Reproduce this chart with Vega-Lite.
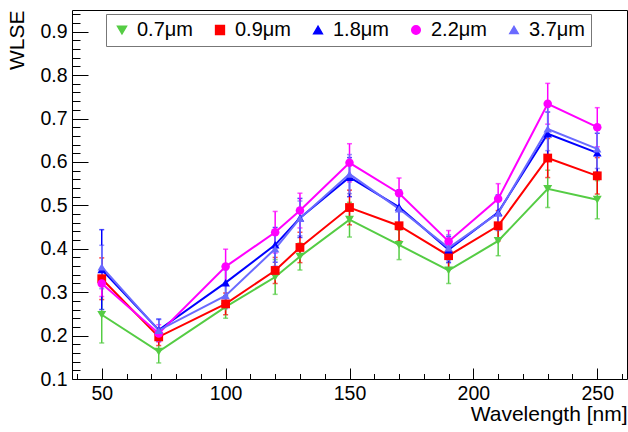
{
  "$schema": "https://vega.github.io/schema/vega-lite/v6.json",
  "width": 555,
  "height": 369,
  "autosize": {"type": "none"},
  "padding": {"left": 72, "top": 10, "right": 1, "bottom": 53},
  "background": "white",
  "config": {
    "font": "Liberation Sans",
    "view": {"stroke": "black", "strokeWidth": 1},
    "axis": {"grid": false, "domain": false, "labelColor": "black", "titleColor": "black", "tickColor": "black", "labelFont": "Liberation Sans", "titleFont": "Liberation Sans", "labelFontSize": 19.5, "titleFontSize": 21, "titleFontWeight": "normal"}
  },
  "data": {"values": [
    {"wl": 50, "s": "0.7μm", "v": 0.248, "e": 0.065},
    {"wl": 73, "s": "0.7μm", "v": 0.163, "e": 0.026},
    {"wl": 100, "s": "0.7μm", "v": 0.266, "e": 0.026},
    {"wl": 120, "s": "0.7μm", "v": 0.335, "e": 0.04},
    {"wl": 130, "s": "0.7μm", "v": 0.382, "e": 0.031},
    {"wl": 150, "s": "0.7μm", "v": 0.467, "e": 0.04},
    {"wl": 170, "s": "0.7μm", "v": 0.409, "e": 0.034},
    {"wl": 190, "s": "0.7μm", "v": 0.35, "e": 0.03},
    {"wl": 210, "s": "0.7μm", "v": 0.418, "e": 0.034},
    {"wl": 230, "s": "0.7μm", "v": 0.538, "e": 0.043},
    {"wl": 250, "s": "0.7μm", "v": 0.513, "e": 0.044},
    {"wl": 50, "s": "0.9μm", "v": 0.331, "e": 0.048},
    {"wl": 73, "s": "0.9μm", "v": 0.197, "e": 0.02},
    {"wl": 100, "s": "0.9μm", "v": 0.273, "e": 0.025},
    {"wl": 120, "s": "0.9μm", "v": 0.35, "e": 0.03},
    {"wl": 130, "s": "0.9μm", "v": 0.403, "e": 0.035},
    {"wl": 150, "s": "0.9μm", "v": 0.495, "e": 0.04},
    {"wl": 170, "s": "0.9μm", "v": 0.453, "e": 0.035},
    {"wl": 190, "s": "0.9μm", "v": 0.384, "e": 0.03},
    {"wl": 210, "s": "0.9μm", "v": 0.453, "e": 0.035},
    {"wl": 230, "s": "0.9μm", "v": 0.609, "e": 0.045},
    {"wl": 250, "s": "0.9μm", "v": 0.568, "e": 0.042},
    {"wl": 50, "s": "1.8μm", "v": 0.352, "e": 0.092},
    {"wl": 73, "s": "1.8μm", "v": 0.213, "e": 0.025},
    {"wl": 100, "s": "1.8μm", "v": 0.322, "e": 0.03},
    {"wl": 120, "s": "1.8μm", "v": 0.409, "e": 0.04},
    {"wl": 130, "s": "1.8μm", "v": 0.471, "e": 0.045},
    {"wl": 150, "s": "1.8μm", "v": 0.565, "e": 0.045},
    {"wl": 170, "s": "1.8μm", "v": 0.496, "e": 0.04},
    {"wl": 190, "s": "1.8μm", "v": 0.398, "e": 0.03},
    {"wl": 210, "s": "1.8μm", "v": 0.484, "e": 0.04},
    {"wl": 230, "s": "1.8μm", "v": 0.665, "e": 0.05},
    {"wl": 250, "s": "1.8μm", "v": 0.621, "e": 0.045},
    {"wl": 50, "s": "2.2μm", "v": 0.32, "e": 0.03},
    {"wl": 73, "s": "2.2μm", "v": 0.205, "e": 0.02},
    {"wl": 100, "s": "2.2μm", "v": 0.359, "e": 0.04},
    {"wl": 120, "s": "2.2μm", "v": 0.438, "e": 0.048},
    {"wl": 130, "s": "2.2μm", "v": 0.488, "e": 0.04},
    {"wl": 150, "s": "2.2μm", "v": 0.598, "e": 0.044},
    {"wl": 170, "s": "2.2μm", "v": 0.528, "e": 0.035},
    {"wl": 190, "s": "2.2μm", "v": 0.417, "e": 0.025},
    {"wl": 210, "s": "2.2μm", "v": 0.515, "e": 0.035},
    {"wl": 230, "s": "2.2μm", "v": 0.734, "e": 0.047},
    {"wl": 250, "s": "2.2μm", "v": 0.68, "e": 0.045},
    {"wl": 50, "s": "3.7μm", "v": 0.358, "e": 0.05},
    {"wl": 73, "s": "3.7μm", "v": 0.212, "e": 0.025},
    {"wl": 100, "s": "3.7μm", "v": 0.292, "e": 0.03},
    {"wl": 120, "s": "3.7μm", "v": 0.4, "e": 0.04},
    {"wl": 130, "s": "3.7μm", "v": 0.47, "e": 0.04},
    {"wl": 150, "s": "3.7μm", "v": 0.572, "e": 0.045},
    {"wl": 170, "s": "3.7μm", "v": 0.492, "e": 0.04},
    {"wl": 190, "s": "3.7μm", "v": 0.402, "e": 0.03},
    {"wl": 210, "s": "3.7μm", "v": 0.482, "e": 0.04},
    {"wl": 230, "s": "3.7μm", "v": 0.676, "e": 0.05},
    {"wl": 250, "s": "3.7μm", "v": 0.63, "e": 0.045}
  ]},
  "resolve": {"axis": {"x": "independent", "y": "independent"}},
  "layer": [
    {
      "mark": {"type": "errorbar", "ticks": {"size": 5, "thickness": 1.5}, "thickness": 1.5},
      "encoding": {
        "x": {"field": "wl", "type": "quantitative", "scale": {"domain": [38, 262], "nice": false, "zero": false},
          "axis": {"orient": "bottom", "values": [50, 100, 150, 200, 250], "ticks": false, "labelPadding": 5, "title": "Wavelength [nm]", "titleAnchor": "end", "titlePadding": 1}},
        "y": {"field": "v", "type": "quantitative", "scale": {"domain": [0.1, 0.95], "nice": false, "zero": false},
          "axis": {"orient": "left", "values": [0.1, 0.2, 0.3, 0.4, 0.5, 0.6, 0.7, 0.8, 0.9], "format": ".1f", "ticks": false, "labelPadding": 5, "title": "WLSE", "titleAnchor": "end", "titlePadding": 12}},
        "yError": {"field": "e"},
        "color": {"field": "s", "type": "nominal",
          "scale": {"domain": ["0.7μm", "0.9μm", "1.8μm", "2.2μm", "3.7μm"], "range": ["#55cc44", "#ff0000", "#0000ff", "#ff00ff", "#6a6aff"]},
          "legend": {"orient": "none", "legendX": 34, "legendY": 4, "direction": "horizontal", "columns": 5, "title": null,
            "strokeColor": "#777777", "fillColor": "white", "padding": 6, "columnPadding": 17, "labelOffset": 5,
            "labelFontSize": 20, "labelFont": "Liberation Sans", "labelColor": "black", "symbolSize": 210, "symbolStrokeWidth": 1.5,
            "encode": {"symbols": {"update": {
              "shape": {"signal": "datum.value == '0.7μm' ? 'M-1,0H1M0,-1V1M-0.45,-0.35H0.45L0,0.4Z' : datum.value == '0.9μm' ? 'M-1,0H1M0,-1V1M-0.35,-0.35H0.35V0.35H-0.35Z' : datum.value == '1.8μm' ? 'M-1,0H1M0,-1V1M0,-0.35L0.35,0.3H-0.35Z' : datum.value == '2.2μm' ? 'M-1,0H1M0,-1V1M0.35,0A0.35,0.35 0 1,1 -0.35,0A0.35,0.35 0 1,1 0.35,0Z' : 'M-1,0H1M0,-1V1'"},
              "fill": {"scale": "color", "field": "value"},
              "stroke": {"scale": "color", "field": "value"},
              "opacity": {"value": 1}, "fillOpacity": {"value": 1}, "strokeWidth": {"value": 1.5}
            }}}
          }}
      }
    },
    {
      "mark": {"type": "line", "strokeWidth": 2},
      "encoding": {
        "x": {"field": "wl", "type": "quantitative",
          "axis": {"orient": "bottom", "values": [50, 100, 150, 200, 250], "tickSize": -11, "labels": false, "title": null}},
        "y": {"field": "v", "type": "quantitative",
          "axis": {"orient": "left", "values": [0.1, 0.2, 0.3, 0.4, 0.5, 0.6, 0.7, 0.8, 0.9], "tickSize": -16, "labels": false, "title": null}},
        "color": {"field": "s", "type": "nominal"}
      }
    },
    {
      "mark": {"type": "point", "filled": true, "opacity": 1},
      "encoding": {
        "x": {"field": "wl", "type": "quantitative",
          "axis": {"orient": "bottom", "values": [40, 60, 70, 80, 90, 110, 120, 130, 140, 160, 170, 180, 190, 210, 220, 230, 240, 260], "tickSize": -5.5, "labels": false, "title": null}},
        "y": {"field": "v", "type": "quantitative",
          "axis": {"orient": "left", "values": [0.12, 0.14, 0.16, 0.18, 0.22, 0.24, 0.26, 0.28, 0.32, 0.34, 0.36, 0.38, 0.42, 0.44, 0.46, 0.48, 0.52, 0.54, 0.56, 0.58, 0.62, 0.64, 0.66, 0.68, 0.72, 0.74, 0.76, 0.78, 0.82, 0.84, 0.86, 0.88, 0.92, 0.94], "tickSize": -8, "labels": false, "title": null}},
        "color": {"field": "s", "type": "nominal"},
        "shape": {"field": "s", "type": "nominal", "legend": null,
          "scale": {"domain": ["0.7μm", "0.9μm", "1.8μm", "2.2μm", "3.7μm"], "range": ["triangle-down", "square", "triangle-up", "circle", "triangle-up"]}},
        "size": {"field": "s", "type": "nominal", "legend": null,
          "scale": {"domain": ["0.7μm", "0.9μm", "1.8μm", "2.2μm", "3.7μm"], "range": [80, 70, 40, 70, 25]}}
      }
    }
  ]
}
